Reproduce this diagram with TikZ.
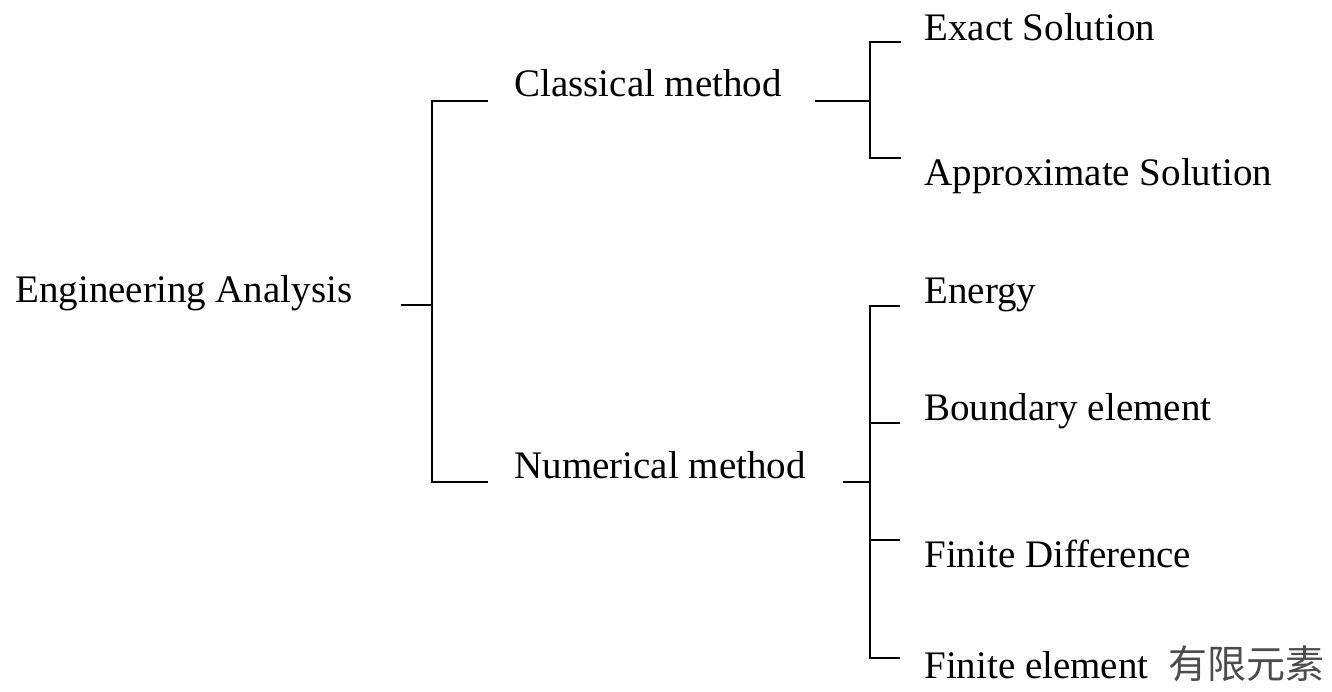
\documentclass[tikz,border=0pt]{standalone}
\usepackage{fontspec}
\setmainfont{Liberation Serif}
\newfontfamily\cjk{Noto Sans CJK TC}
\usepackage{tikz}
\usetikzlibrary{positioning}
\tikzset{item/.style={anchor=base west,inner sep=0pt,font=\fontsize{22.2pt}{26pt}\selectfont},
         brace/.style={line width=1pt}}

\begin{document}
\begin{tikzpicture}[x=0.02cm,y=-0.02cm]
    \useasboundingbox (0,0) rectangle (1332,691);

    \node[item] (ea) at (15,302) {Engineering Analysis};
    \node[item] (cm) at (514,96) {Classical method};
    \node[item] (nm) at (514,478) {Numerical method};
    \node[item] (es) at (924,40) {Exact Solution};
    \node[item] (as) at (924,185) {Approximate Solution};
    \node[item] (en) at (924,303) {Energy};
    \node[item] (be) at (924,420) {Boundary element};
    \node[item] (fd) at (924,567) {Finite Difference};
    \node[item] (fe) at (924,678) {Finite element\ \ {\cjk\color{black!70}有限元素}};

    % left bracket
    \coordinate (s0) at (401,305);
    \coordinate (j0) at (432,305);
    \coordinate (t1) at (488,101);
    \coordinate (t2) at (488,482);
    \draw [brace] (s0) -- (j0);
    \draw [brace] (t1) -| (j0) |- (t2);

    % classical
    \coordinate (s1) at (815,101);
    \coordinate (j1) at (870,101);
    \coordinate (t3) at (901,42);
    \coordinate (t4) at (901,158);
    \draw [brace] (s1) -- (j1);
    \draw [brace] (t3) -| (j1) |- (t4);

    % numerical
    \coordinate (s2) at (843,482);
    \coordinate (j2) at (870,482);
    \coordinate (t5) at (900,306);
    \coordinate (t6) at (900,423);
    \coordinate (t7) at (900,540);
    \coordinate (t8) at (900,658);
    \draw [brace] (s2) -- (j2);
    \draw [brace] (t5) -| (j2) |- (t8);
    \draw [brace] (t6) -- (t6 -| j2);
    \draw [brace] (t7) -- (t7 -| j2);
\end{tikzpicture}
\end{document}
